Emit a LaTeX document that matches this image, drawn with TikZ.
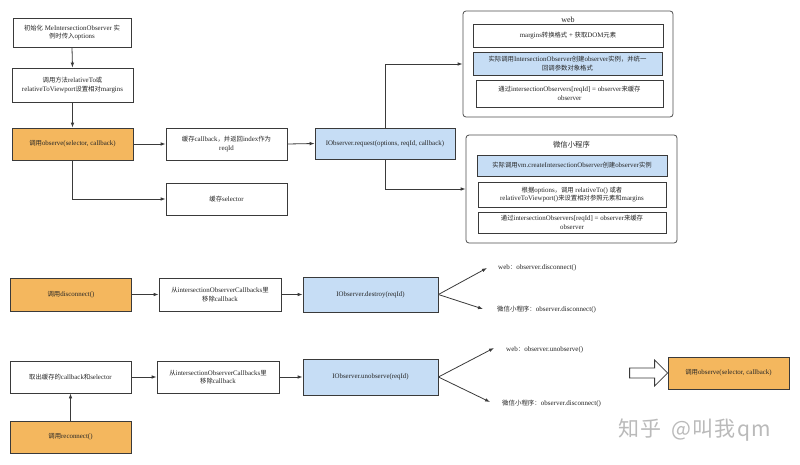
\documentclass[tikz,border=0pt]{standalone}
\usepackage{fontspec}
\setmainfont{Liberation Serif}
\newfontfamily\cjk{Noto Sans CJK SC}[Scale=0.92]
\newfontfamily\wmfont{Noto Sans CJK SC}[LetterSpace=6]
\newcommand\zh[1]{{\cjk #1}}
\usetikzlibrary{arrows.meta}
\definecolor{orangefill}{HTML}{F4B75E}
\definecolor{bluefill}{HTML}{C6DDF5}
\definecolor{edge}{HTML}{3A3A3A}
\begin{document}
\begin{tikzpicture}[x=1pt,y=-1pt,
  every node/.style={font=\fontsize{6.9}{8.6}\selectfont, text=black!85, inner sep=1pt},
  box/.style={draw=edge, line width=0.8pt, fill=white, align=center, minimum width=121pt, minimum height=32pt},
  obox/.style={box, fill=orangefill},
  bbox/.style={box, fill=bluefill},
  cont/.style={draw=edge!90, line width=0.8pt, rounded corners=3pt, fill=white},
  lbl/.style={anchor=west, font=\fontsize{7}{8.6}\selectfont},
  arr/.style={draw=edge, line width=0.8pt, -{Latex[length=5pt,width=3.6pt]}}
]
\useasboundingbox (0,0) rectangle (800,464);
\fill[white] (0,0) rectangle (800,464);

% top-left chain
\node[box, minimum width=118pt, minimum height=29pt] (init) at (72,32.5) {\zh{初始化} MeIntersectionObserver \zh{实}\\\zh{例时传入}options};
\node[box, minimum height=34pt] (rel) at (72.5,85) {\zh{调用方法}relativeTo\zh{或}\\relativeToViewport\zh{设置相对}margins};
\node[obox] (obs) at (72.5,144) {\zh{调用}observe(selector, callback)};
\node[box] (cb) at (226.5,144) {\zh{缓存}callback\zh{，并返回}index\zh{作为}\\reqId};
\node[box] (sel) at (226.5,199) {\zh{缓存}selector};
\node[bbox, minimum width=140pt, minimum height=31pt] (req) at (385,143.5) {IObserver.request(options, reqId, callback)};

% web container
\node[cont, minimum width=210pt, minimum height=106pt] (web) at (568,64) {};
\node[font=\fontsize{8}{9}\selectfont] (webt) at (568,20) {web};
\node[box, minimum width=190pt, minimum height=23pt] (m1) at (568,35.5) {margins\zh{转换格式} + \zh{获取}DOM\zh{元素}};
\node[bbox, minimum width=189pt, minimum height=23pt] (m2) at (567.5,63.5) {\zh{实际调用}IntersectionObserver\zh{创建}observer\zh{实例，并统一}\\\zh{回调参数对象格式}};
\node[box, minimum width=187pt, minimum height=27pt] (m3) at (569.5,93.5) {\zh{通过}intersectionObservers[reqId] = observer\zh{来缓存}\\observer};

% wechat container
\node[cont, minimum width=211pt, minimum height=108pt] (wx) at (571.5,189) {};
\node[font=\fontsize{8}{9}\selectfont] (wxt) at (571.5,145) {\zh{微信小程序}};
\node[bbox, minimum width=190pt, minimum height=21pt] (w1) at (572,165.5) {\zh{实际调用}vm.createIntersectionObserver\zh{创建}observer\zh{实例}};
\node[box, minimum width=188pt, minimum height=25pt] (w2) at (572,194.5) {\zh{根据}options\zh{，调用} relativeTo() \zh{或者}\\relativeToViewport()\zh{来设置相对参照元素和}margins};
\node[box, minimum width=188pt, minimum height=21pt] (w3) at (572,222.5) {\zh{通过}intersectionObservers[reqId] = observer\zh{来缓存}\\observer};

% top connectors
\draw[arr] (init.south) -- (rel.north);
\draw[arr] (rel.south) -- (obs.north);
\draw[arr] (obs.east) -- (cb.west);
\draw[arr] (cb.east) -- (req.west);
\draw[arr] (obs.south) |- (sel.west);
\draw[arr] (req.north) |- (web.west);
\draw[arr] (req.south) |- (wx.west);

% disconnect row
\node[obox, minimum height=33pt] (dis) at (71,294.5) {\zh{调用}disconnect()};
\node[box, minimum width=122pt, minimum height=33pt] (dcb) at (220,294.5) {\zh{从}intersectionObserverCallbacks\zh{里}\\\zh{移除}callback};
\node[bbox, minimum width=135pt, minimum height=35pt] (des) at (370.5,294.5) {IObserver.destroy(reqId)};
\node[lbl] (t1) at (497,268) {web\zh{：}observer.disconnect()};
\node[lbl] (t2) at (496,310) {\zh{微信小程序：}observer.disconnect()};
\coordinate (p1) at (487,268);
\coordinate (p2) at (483,309);
\draw[arr] (dis.east) -- (dcb.west);
\draw[arr] (dcb.east) -- (des.west);
\draw[arr] (des.east) -- (p1);
\draw[arr] (des.east) -- (p2);

% unobserve row
\node[box] (take) at (70.5,377) {\zh{取出缓存的}callback\zh{和}selector};
\node[box, minimum width=122pt] (ucb) at (218,377) {\zh{从}intersectionObserverCallbacks\zh{里}\\\zh{移除}callback};
\node[bbox, minimum width=135pt, minimum height=36pt] (uno) at (370.5,377) {IObserver.unobserve(reqId)};
\node[obox] (rec) at (70.5,437) {\zh{调用}reconnect()};
\node[lbl] (t3) at (505,350) {web\zh{：}observer.unobserve()};
\node[lbl] (t4) at (501,404) {\zh{微信小程序：}observer.disconnect()};
\coordinate (p3) at (494,348);
\coordinate (p4) at (490,402);
\draw[arr] (take.east) -- (ucb.west);
\draw[arr] (ucb.east) -- (uno.west);
\draw[arr] (uno.east) -- (p3);
\draw[arr] (uno.east) -- (p4);
\draw[arr] (rec.north) -- (take.south);

% final box and hollow arrow
\node[obox] (fin) at (728.5,373) {\zh{调用}observe(selector, callback)};
\draw[draw=edge, line width=0.8pt, fill=white, line join=miter]
  (fin.west) -- ++(-13,-13) -- ++(0,8) -- ++(-25,0) -- ++(0,10) -- ++(25,0) -- ++(0,8) -- cycle;

% watermark
\node[font=\wmfont\fontsize{21}{24}\selectfont, text=black!27, anchor=west] (wm) at (617,430) {知乎\hspace{4pt} @叫我qm};
\end{tikzpicture}
\end{document}
